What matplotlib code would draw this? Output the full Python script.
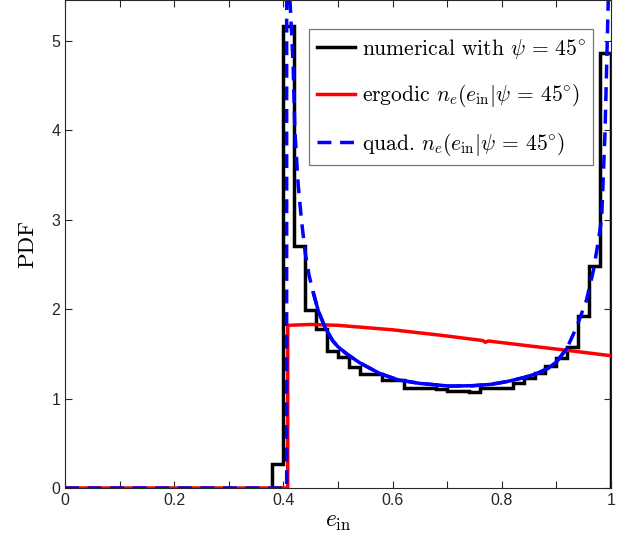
import numpy as np
import matplotlib
matplotlib.use('Agg')
import matplotlib.pyplot as plt
from matplotlib.ticker import MultipleLocator, FuncFormatter

plt.rcParams['mathtext.fontset'] = 'cm'
plt.rcParams['font.family'] = ['Liberation Sans', 'DejaVu Sans']

# histogram of the numerical run (bin edges, then pdf per bin)
bin_edges = [0.38, 0.40, 0.42, 0.44, 0.46, 0.48, 0.50, 0.52, 0.54, 0.56, 0.58,
             0.60, 0.62, 0.64, 0.66, 0.68, 0.70, 0.72, 0.74, 0.76, 0.78, 0.80,
             0.82, 0.84, 0.86, 0.88, 0.90, 0.92, 0.94, 0.96, 0.98, 1.00]
hist_pdf = [0.27, 5.17, 2.71, 1.99, 1.78, 1.53, 1.47, 1.35, 1.28, 1.27, 1.21,
            1.21, 1.12, 1.12, 1.12, 1.11, 1.09, 1.09, 1.07, 1.12, 1.12, 1.12,
            1.18, 1.23, 1.29, 1.36, 1.46, 1.58, 1.92, 2.48, 4.87]

# ergodic curve
erg_e = [0.0, 0.408, 0.408, 0.45, 0.50, 0.60, 0.687, 0.765, 0.770, 0.775,
         0.85, 0.92, 1.0]
erg_pdf = [0.0, 0.0, 1.82, 1.83, 1.82, 1.77, 1.71, 1.65, 1.63, 1.645,
           1.59, 1.54, 1.48]

# quadrupole curve
quad_e = [0.0, 0.406, 0.406, 0.412, 0.415, 0.418, 0.421, 0.427, 0.433, 0.44,
          0.447, 0.455, 0.464, 0.476, 0.49, 0.50, 0.516, 0.54, 0.577, 0.61,
          0.65, 0.705, 0.748, 0.78, 0.809, 0.84, 0.864, 0.885, 0.90, 0.919,
          0.937, 0.955, 0.968, 0.977, 0.983, 0.989, 0.992, 0.995, 0.999]
quad_pdf = [0.0, 0.0, 8.0, 5.46, 5.1, 4.7, 4.0, 3.4, 3.0, 2.63,
            2.38, 2.18, 1.98, 1.80, 1.65, 1.58, 1.50, 1.40, 1.28, 1.21,
            1.17, 1.14, 1.145, 1.16, 1.19, 1.235, 1.28, 1.34, 1.41, 1.56,
            1.80, 2.10, 2.44, 2.77, 3.03, 3.97, 4.71, 5.46, 8.0]

# the smooth middle stretch of the quad curve renders as a solid line
mid = [i for i, e in enumerate(quad_e) if 0.45 <= e <= 0.93]

fig = plt.figure(figsize=(6.33, 5.43), dpi=100)
ax = fig.add_axes([65/633, 1-488/543, 546/633, 488/543])

ax.stairs(hist_pdf, bin_edges, baseline=0, color='k', lw=2.5,
          label=r'numerical with $\psi\,=\,45^{\circ}$')
ax.plot(erg_e, erg_pdf, color='r', lw=2.5,
        label=r'ergodic $n_e(e_{\rm in}|\psi\,=\,45^{\circ})$')
ax.plot(quad_e, quad_pdf, color='b', lw=2.5, dashes=(4, 2.5),
        label=r'quad. $n_e(e_{\rm in}|\psi\,=\,45^{\circ})$')
ax.plot([quad_e[i] for i in mid], [quad_pdf[i] for i in mid],
        color='b', lw=2.5)

ax.set_xlim(0, 1)
ax.set_ylim(0, 5.46)
ax.xaxis.set_major_locator(MultipleLocator(0.2))
ax.xaxis.set_minor_locator(MultipleLocator(0.1))
ax.yaxis.set_major_locator(MultipleLocator(1))
ax.xaxis.set_major_formatter(FuncFormatter(lambda v, p: '%g' % round(v, 2)))
ax.tick_params(which='both', direction='in', top=True, right=True,
               length=5, width=0.8, color='#262626', labelsize=11.5,
               labelcolor='#262626')
for s in ax.spines.values():
    s.set_color('#262626')
    s.set_linewidth(0.8)

ax.set_xlabel(r'$e_{\rm in}$', fontsize=17, labelpad=2)
ax.set_ylabel('PDF', fontsize=16.5, labelpad=10)
ax.yaxis.label.set_fontfamily(['cmr10', 'DejaVu Serif'])

leg = ax.legend(loc='upper right', bbox_to_anchor=(0.9676, 0.94),
                borderaxespad=0, handlelength=1.8,
                handletextpad=0.3, labelspacing=1.0, borderpad=0.35,
                fancybox=False, framealpha=1, edgecolor='#777777',
                prop={'family': ['cmr10', 'DejaVu Serif'], 'size': 15.5})
leg.get_frame().set_linewidth(0.9)

fig.savefig('out.png', dpi=100)
